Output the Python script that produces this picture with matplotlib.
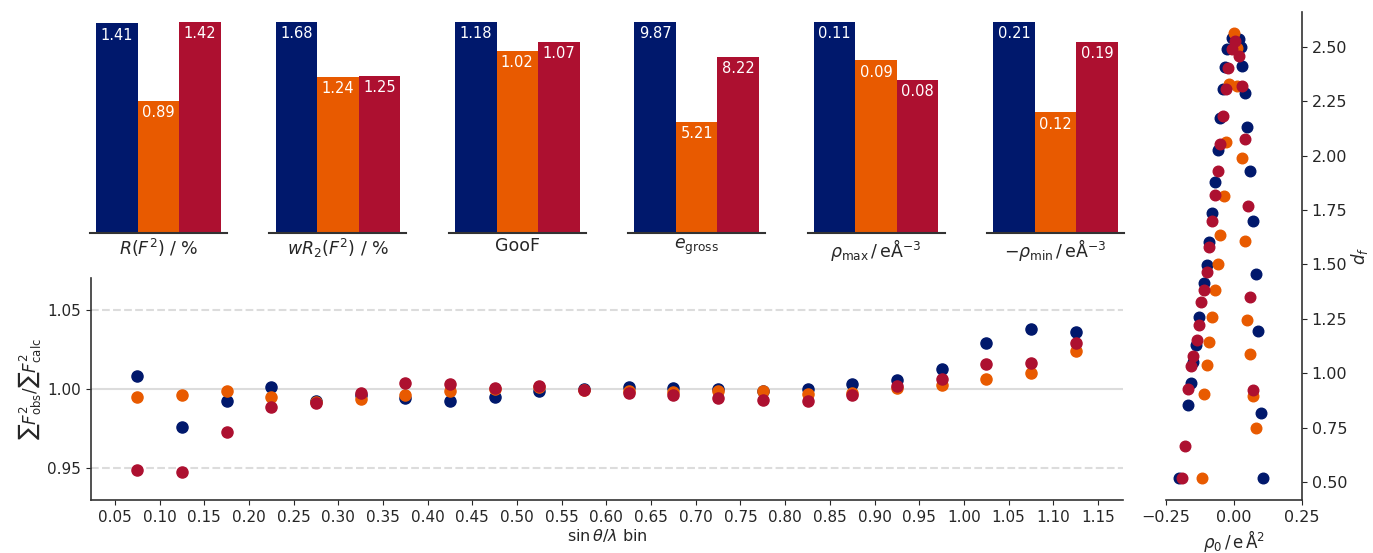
import numpy as np
import matplotlib
matplotlib.use("Agg")
import matplotlib.pyplot as plt

# === Colours for the three models ===
c_navy = "#00186c"
c_orange = "#e85a00"
c_red = "#ad1030"
colors = [c_navy, c_orange, c_red]

# === Bar panel data (navy, orange, red) ===
bar_labels = [r"$R(F^2)$ / %", r"$wR_2(F^2)$ / %", "GooF", r"$e_\mathrm{gross}$",
              r"$\rho_\mathrm{max}\,/\,\mathrm{e\AA^{-3}}$",
              r"$-\rho_\mathrm{min}\,/\,\mathrm{e\AA^{-3}}$"]
r_f2 = [1.41, 0.89, 1.42]
wr2_f2 = [1.68, 1.24, 1.25]
goof = [1.18, 1.02, 1.07]
e_gross = [9.87, 5.21, 8.22]
rho_max = [0.11, 0.09, 0.08]
rho_min = [0.21, 0.12, 0.19]
bar_values = [r_f2, wr2_f2, goof, e_gross, rho_max, rho_min]

# === Scale factor per resolution bin ===
bins = [0.075, 0.125, 0.175, 0.225, 0.275, 0.325, 0.375, 0.425, 0.475, 0.525, 0.575,
        0.625, 0.675, 0.725, 0.775, 0.825, 0.875, 0.925, 0.975, 1.025, 1.075, 1.125]
ratio_navy = [1.0082, 0.9762, 0.9924, 1.0015, 0.9924, 0.9960, 0.9941, 0.9924, 0.9951, 0.9989, 1.0000,
              1.0015, 1.0004, 0.9998, 0.9987, 1.0000, 1.0032, 1.0057, 1.0127, 1.0293, 1.0380, 1.0359]
ratio_orange = [0.9949, 0.9962, 0.9987, 0.9949, 0.9920, 0.9935, 0.9962, 0.9989, 1.0000, 1.0010, 0.9996,
                0.9989, 0.9983, 0.9987, 0.9987, 0.9968, 0.9973, 1.0004, 1.0025, 1.0063, 1.0099, 1.0243]
ratio_red = [0.9487, 0.9477, 0.9730, 0.9888, 0.9909, 0.9977, 1.0036, 1.0032, 1.0008, 1.0021, 0.9994,
             0.9977, 0.9960, 0.9943, 0.9930, 0.9926, 0.9962, 1.0019, 1.0061, 1.0160, 1.0163, 1.0289]
bin_ticks = [0.05, 0.10, 0.15, 0.20, 0.25, 0.30, 0.35, 0.40, 0.45, 0.50, 0.55, 0.60,
             0.65, 0.70, 0.75, 0.80, 0.85, 0.90, 0.95, 1.00, 1.05, 1.10, 1.15]

# === Fractal dimension plot: rho0 vs df ===
rho0_navy = [-0.201, 0.108, -0.170, 0.099, -0.159, -0.152, -0.140, 0.089, -0.129, -0.110, 0.081,
             -0.100, -0.091, 0.071, -0.080, -0.070, 0.059, -0.060, 0.049, -0.051, 0.040, -0.042,
             0.030, -0.033, 0.026, -0.025, 0.019, -0.008]
df_navy = [0.517, 0.517, 0.854, 0.816, 0.954, 1.049, 1.130, 1.192, 1.256, 1.414, 1.457,
           1.499, 1.603, 1.701, 1.737, 1.879, 1.928, 2.028, 2.132, 2.174, 2.286, 2.304,
           2.411, 2.408, 2.500, 2.491, 2.537, 2.542]
rho0_orange = [-0.119, 0.080, -0.110, 0.069, -0.100, 0.059, -0.091, -0.080, 0.049, -0.070,
               -0.060, 0.040, -0.051, -0.037, 0.028, -0.029, -0.017, 0.012, 0.012, 0.000]
df_orange = [0.517, 0.750, 0.905, 0.893, 1.038, 1.089, 1.141, 1.256, 1.246, 1.380,
             1.503, 1.609, 1.633, 1.813, 1.990, 2.063, 2.327, 2.319, 2.496, 2.565]
rho0_red = [-0.190, -0.180, -0.170, 0.069, -0.159, -0.150, -0.137, -0.129, -0.121, 0.059,
            -0.110, -0.098, -0.091, -0.080, 0.050, -0.070, -0.060, -0.051, 0.040, -0.039,
            -0.029, 0.028, -0.021, 0.019, -0.008, 0.004]
df_red = [0.517, 0.666, 0.928, 0.923, 1.031, 1.080, 1.153, 1.222, 1.325, 1.348,
          1.380, 1.463, 1.578, 1.701, 1.767, 1.821, 1.931, 2.051, 2.078, 2.181,
          2.307, 2.319, 2.404, 2.460, 2.488, 2.526]
df_ticks = [0.50, 0.75, 1.00, 1.25, 1.50, 1.75, 2.00, 2.25, 2.50]
rho_ticks = [-0.25, 0.00, 0.25]

W, H = 1373, 553
fig = plt.figure(figsize=(W / 100, H / 100), dpi=100)
text_col = "#262626"


def px_axes(left, top, right, bottom):
    return fig.add_axes([left / W, (H - bottom) / H, (right - left) / W, (bottom - top) / H])


# === Bar panels ===
for i, (vals, lab) in enumerate(zip(bar_values, bar_labels)):
    left = 90 + 179.4 * i
    ax = px_axes(left, 22, left + 137, 233)
    x = np.arange(len(vals))
    bars = ax.bar(x, vals, width=1.0, color=colors)
    ax.set_ylim(0, max(vals))
    ax.set_xlim(-0.65, 2.65)
    for b, v in zip(bars, vals):
        ax.annotate(f"{v:.2f}", (b.get_x() + b.get_width() / 2, v), xytext=(0, -3),
                    textcoords="offset points", ha="center", va="top",
                    color="white", fontsize=10.5)
    for s in ["top", "right", "left"]:
        ax.spines[s].set_visible(False)
    ax.spines["bottom"].set_linewidth(1.5)
    ax.spines["bottom"].set_color("#333333")
    ax.set_xticks([])
    ax.set_yticks([])
    ax.set_xlabel(lab, fontsize=12.5, color=text_col, labelpad=3)

# === Scale factor scatter ===
ax2 = px_axes(91, 278, 1123, 500)
ax2.axhline(1.05, color="#dcdcdc", lw=1.5, ls="--", zorder=0)
ax2.axhline(0.95, color="#dcdcdc", lw=1.5, ls="--", zorder=0)
ax2.axhline(1.00, color="#dcdcdc", lw=1.5, zorder=0)
ax2.scatter(bins, ratio_navy, s=64, color=c_navy, zorder=2)
ax2.scatter(bins, ratio_orange, s=64, color=c_orange, zorder=3)
ax2.scatter(bins, ratio_red, s=64, color=c_red, zorder=4)
ax2.set_xlim(0.0233, 1.178)
ax2.set_ylim(0.9297, 1.0703)
ax2.set_yticks([0.95, 1.00, 1.05])
ax2.set_yticklabels(["0.95", "1.00", "1.05"])
ax2.set_xticks(bin_ticks)
ax2.set_xticklabels([f"{t:.2f}" for t in bin_ticks])
ax2.spines["top"].set_visible(False)
ax2.spines["right"].set_visible(False)
for s in ["left", "bottom"]:
    ax2.spines[s].set_color("#333333")
    ax2.spines[s].set_linewidth(1.2)
ax2.tick_params(labelsize=11, colors=text_col)
ax2.set_xlabel(r"$\sin\theta/\lambda$ bin", fontsize=11.5, color=text_col, labelpad=2)
ax2.set_ylabel(r"$\sum F^2_\mathrm{obs}/\sum F^2_\mathrm{calc}$", fontsize=12, color=text_col,
               labelpad=3)

# === Fractal dimension scatter ===
ax3 = px_axes(1166, 12, 1302, 500)
ax3.scatter(rho0_navy, df_navy, s=58, color=c_navy, zorder=2)
ax3.scatter(rho0_orange, df_orange, s=58, color=c_orange, zorder=3)
ax3.scatter(rho0_red, df_red, s=58, color=c_red, zorder=4)
ax3.set_xlim(-0.25, 0.25)
ax3.set_ylim(0.417, 2.66)
ax3.set_xticks(rho_ticks)
ax3.set_xticklabels(["\u22120.25", "0.00", "0.25"])
ax3.set_yticks(df_ticks)
ax3.set_yticklabels([f"{t:.2f}" for t in df_ticks])
ax3.yaxis.tick_right()
ax3.yaxis.set_label_position("right")
ax3.spines["top"].set_visible(False)
ax3.spines["left"].set_visible(False)
for s in ["right", "bottom"]:
    ax3.spines[s].set_color("#333333")
    ax3.spines[s].set_linewidth(1.2)
ax3.tick_params(labelsize=11.5, colors=text_col)
ax3.set_xlabel(r"$\rho_0\,/\,\mathrm{e\,\AA^2}$", fontsize=12, color=text_col, labelpad=2)
ax3.set_ylabel(r"$d_f$", fontsize=12, color=text_col, labelpad=1)

fig.savefig("out.png", dpi=100)
